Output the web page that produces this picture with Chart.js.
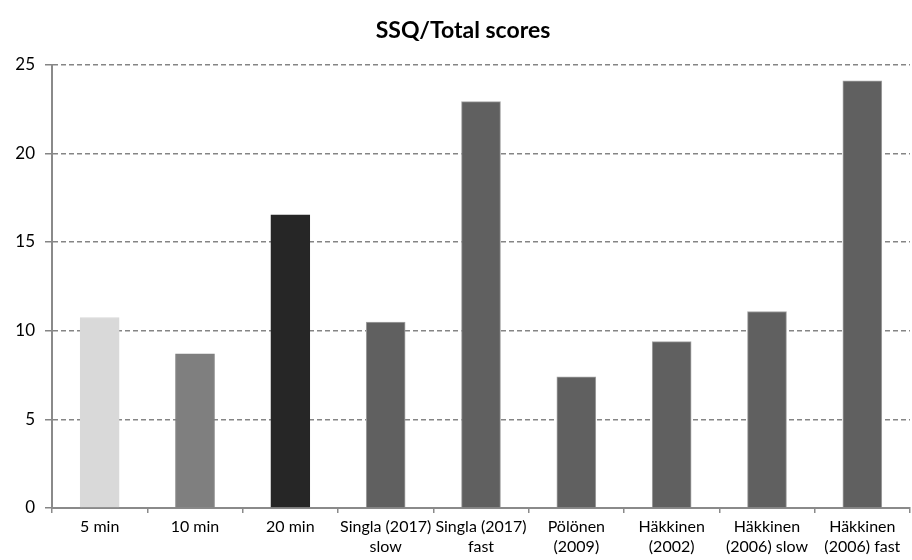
<!DOCTYPE html>
<html>
<head>
<meta charset="utf-8">
<script src="https://cdn.jsdelivr.net/npm/chart.js@4"></script>
<style>
  html, body { margin: 0; padding: 0; background: #ffffff; }
  #wrap { width: 912px; height: 560px; }
</style>
</head>
<body>
<div id="wrap"><canvas id="chart" width="912" height="560"></canvas></div>
<script>
// SSQ total scores per condition / study
const categories = [
  '5 min',
  '10 min',
  '20 min',
  ['Singla (2017)', 'slow'],
  ['Singla (2017)', 'fast'],
  ['Pölönen', '(2009)'],
  ['Häkkinen', '(2002)'],
  ['Häkkinen', '(2006) slow'],
  ['Häkkinen', '(2006) fast']
];
const scores = [10.74, 8.69, 16.53, 10.48, 22.91, 7.39, 9.38, 11.08, 24.08];
const barColors = ['#d9d9d9', '#7f7f7f', '#262626', '#606060', '#606060', '#606060', '#606060', '#606060', '#606060'];
const barEdges = ['#d9d9d9', '#7f7f7f', '#262626', '#a3a3a3', '#a3a3a3', '#a3a3a3', '#a3a3a3', '#a3a3a3', '#a3a3a3'];
const yTicks = [0, 5, 10, 15, 20, 25];
const titleText = 'SSQ/Total scores';

const fontFamily = "Lato, 'Open Sans', sans-serif";

new Chart(document.getElementById('chart'), {
  type: 'bar',
  data: {
    labels: categories,
    datasets: [{
      data: scores,
      backgroundColor: barColors,
      borderColor: barEdges,
      borderWidth: { top: 1, left: 1, right: 1, bottom: 0 },
      barThickness: 39
    }]
  },
  options: {
    responsive: false,
    animation: false,
    devicePixelRatio: 1,
    layout: { padding: { left: 16, right: 2, top: 0, bottom: 0 } },
    plugins: {
      legend: { display: false },
      tooltip: { enabled: false },
      title: {
        display: true,
        text: titleText,
        color: '#000000',
        font: { family: fontFamily, size: 23, weight: 'bold', lineHeight: 1.2 },
        padding: { top: 17, bottom: 20 }
      }
    },
    scales: {
      x: {
        offset: true,
        grid: {
          display: true,
          offset: true,
          drawOnChartArea: false,
          drawTicks: true,
          tickLength: 5,
          color: '#8a8a8a',
          lineWidth: 1.5
        },
        border: { display: true, color: '#8a8a8a', width: 2 },
        ticks: {
          autoSkip: false,
          maxRotation: 0,
          minRotation: 0,
          padding: 4,
          color: '#000000',
          font: { family: fontFamily, size: 16, lineHeight: 1.25 }
        },
        afterFit: (scale) => { scale.height = 52; }
      },
      y: {
        min: 0,
        max: 25,
        afterBuildTicks: (scale) => { scale.ticks = yTicks.map(v => ({ value: v })); },
        grid: {
          display: true,
          drawOnChartArea: true,
          drawTicks: true,
          tickLength: 7,
          color: '#858585',
          lineWidth: 1.5
        },
        border: { display: true, color: '#8a8a8a', width: 2, dash: [5, 3] },
        ticks: {
          padding: 10,
          color: '#000000',
          font: { family: fontFamily, size: 17 }
        },
        afterFit: (scale) => { scale.width = 36; }
      }
    }
  }
});
</script>
</body>
</html>
